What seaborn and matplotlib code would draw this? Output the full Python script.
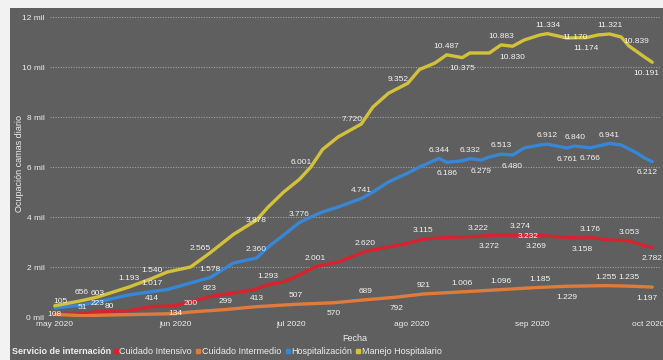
import matplotlib
matplotlib.use("Agg")
import matplotlib.pyplot as plt
from matplotlib.lines import Line2D
from matplotlib.patches import Rectangle
import seaborn as sns
import pandas as pd

# ---------------- data ----------------
series_names = ["Cuidado Intensivo", "Cuidado Intermedio", "Hospitalización", "Manejo Hospitalario"]

ci_dates = ["2020-05-01", "2020-05-08", "2020-05-12", "2020-05-20", "2020-05-26", "2020-06-01", "2020-06-05",
            "2020-06-10", "2020-06-16", "2020-06-21", "2020-06-25", "2020-06-29", "2020-07-03", "2020-07-07",
            "2020-07-13", "2020-07-20", "2020-07-26", "2020-07-31", "2020-08-04", "2020-08-10", "2020-08-18",
            "2020-08-21", "2020-08-29", "2020-08-31", "2020-09-02", "2020-09-08", "2020-09-14", "2020-09-16",
            "2020-09-21", "2020-09-26", "2020-09-30", "2020-10-02"]
ci_values = [108, 120, 223, 250, 414, 450, 600, 823, 960, 1080, 1293, 1400, 1680, 2001, 2200, 2620, 2800, 2950,
             3115, 3180, 3222, 3272, 3274, 3232, 3269, 3200, 3158, 3176, 3080, 3053, 2850, 2782]
ci_lab = ["c", "", "a", "", "a", "", "", "a", "", "", "a", "", "", "a", "", "a", "", "", "a", "", "a", "b", "a",
          "c", "b", "", "b", "a", "", "a", "", "b"]

cm_dates = ["2020-05-01", "2020-05-08", "2020-05-15", "2020-06-01", "2020-06-05", "2020-06-14", "2020-06-22",
            "2020-07-02", "2020-07-12", "2020-07-20", "2020-07-28", "2020-08-04", "2020-08-14", "2020-08-24",
            "2020-09-03", "2020-09-10", "2020-09-20", "2020-09-26", "2020-10-02"]
cm_values = [105, 51, 80, 134, 200, 299, 413, 507, 570, 689, 792, 921, 1006, 1096, 1185, 1229, 1255, 1235, 1197]
cm_lab = ["A", "a", "a", "c", "a", "a", "a", "a", "b", "a", "b", "a", "a", "a", "a", "b", "a", "a", "B"]

ho_dates = ["2020-05-01", "2020-05-08", "2020-05-12", "2020-05-20", "2020-05-26", "2020-05-30", "2020-06-05",
            "2020-06-10", "2020-06-16", "2020-06-22", "2020-06-25", "2020-06-29", "2020-07-03", "2020-07-06",
            "2020-07-09", "2020-07-13", "2020-07-19", "2020-07-22", "2020-07-26", "2020-07-31", "2020-08-03",
            "2020-08-08", "2020-08-10", "2020-08-14", "2020-08-16", "2020-08-19", "2020-08-21", "2020-08-24",
            "2020-08-27", "2020-08-30", "2020-09-03", "2020-09-05", "2020-09-10", "2020-09-12", "2020-09-16",
            "2020-09-21", "2020-09-24", "2020-09-28", "2020-09-30", "2020-10-02"]
ho_values = [360, 480, 603, 880, 1017, 1100, 1360, 1578, 2160, 2360, 2800, 3280, 3776, 4000, 4200, 4400, 4741,
             5000, 5400, 5760, 6000, 6344, 6186, 6250, 6332, 6279, 6400, 6513, 6480, 6760, 6880, 6912, 6761,
             6840, 6766, 6941, 6880, 6560, 6360, 6212]
ho_lab = ["", "", "a", "", "a", "", "", "a", "", "a", "", "", "a", "", "", "", "a", "", "", "", "",
          "a", "b", "", "a", "b", "", "a", "b", "", "", "a", "b", "a", "b", "a", "", "", "", "B"]

mh_dates = ["2020-05-01", "2020-05-08", "2020-05-12", "2020-05-20", "2020-05-26", "2020-05-30", "2020-06-05",
            "2020-06-10", "2020-06-16", "2020-06-22", "2020-06-25", "2020-06-29", "2020-07-03", "2020-07-06",
            "2020-07-09", "2020-07-13", "2020-07-19", "2020-07-22", "2020-07-26", "2020-07-31", "2020-08-03",
            "2020-08-07", "2020-08-10", "2020-08-14", "2020-08-16", "2020-08-21", "2020-08-24", "2020-08-27",
            "2020-08-30", "2020-09-03", "2020-09-05", "2020-09-10", "2020-09-12", "2020-09-15", "2020-09-18",
            "2020-09-21", "2020-09-24", "2020-09-26", "2020-09-30", "2020-10-02"]
mh_values = [450, 656, 800, 1193, 1540, 1800, 2000, 2565, 3300, 3878, 4400, 5000, 5500, 6001, 6700, 7200, 7720,
             8400, 8950, 9352, 9900, 10160, 10487, 10375, 10560, 10560, 10883, 10830, 11080, 11280, 11334, 11160,
             11170, 11174, 11280, 11321, 11200, 10839, 10400, 10191]
mh_lab = ["", "a", "", "a", "a", "", "", "l", "", "c", "", "", "", "l", "", "", "l", "", "", "l", "",
          "", "a", "b", "", "", "a", "b", "", "", "a", "", "c", "b", "", "a", "", "r", "", "B"]

month_ticks = ["2020-05-01", "2020-06-01", "2020-07-01", "2020-08-01", "2020-09-01", "2020-10-01"]
month_labels = ["may 2020", "jun 2020", "jul 2020", "ago 2020", "sep 2020", "oct 2020"]
y_ticks = [0, 2000, 4000, 6000, 8000, 10000, 12000]
y_labels = ["0 mil", "2 mil", "4 mil", "6 mil", "8 mil", "10 mil", "12 mil"]

# ---------------- build frame ----------------
frames = []
all_series = [(series_names[0], ci_dates, ci_values, ci_lab),
              (series_names[1], cm_dates, cm_values, cm_lab),
              (series_names[2], ho_dates, ho_values, ho_lab),
              (series_names[3], mh_dates, mh_values, mh_lab)]
for name, d, v, l in all_series:
    frames.append(pd.DataFrame({"Fecha": pd.to_datetime(d), "Valor": v, "Serie": name, "lab": l}))
df = pd.concat(frames, ignore_index=True)

colors = {"Cuidado Intensivo": "#d8222e", "Cuidado Intermedio": "#e07b3c",
          "Hospitalización": "#3887d6", "Manejo Hospitalario": "#d3c13c"}
bg = "#5f5f5f"
txt = "#eeeeee"

sns.set_theme(style="white")
plt.rcParams["font.family"] = ["Liberation Sans", "DejaVu Sans"]

fig = plt.figure(figsize=(6.63, 3.6), dpi=100)
fig.patch.set_facecolor(bg)
fig.patches.append(Rectangle((0, 1 - 8 / 360), 1, 8 / 360, transform=fig.transFigure,
                             facecolor="#f2f2f2", edgecolor="none", zorder=-1))
fig.patches.append(Rectangle((0, 0), 10 / 663, 1, transform=fig.transFigure,
                             facecolor="#f2f2f2", edgecolor="none", zorder=-1))

ax = fig.add_axes([50 / 663, 1 - 317 / 360, 610 / 663, 300 / 360])
ax.set_facecolor(bg)

sns.lineplot(data=df, x="Fecha", y="Valor", hue="Serie", hue_order=series_names, palette=colors,
             linewidth=2.4, ax=ax, legend=False, sort=True)

ax.set_ylim(0, 12000)
ax.set_xlim(pd.Timestamp("2020-04-29 18:00"), pd.Timestamp("2020-10-04"))
ax.set_yticks(y_ticks)
ax.set_yticklabels(y_labels)
ax.set_xticks(pd.to_datetime(month_ticks))
ax.set_xticklabels(month_labels)
ax.tick_params(axis="both", length=0, colors=txt, labelsize=6)
ax.tick_params(axis="y", pad=4)
ax.tick_params(axis="x", pad=3)
for s in ax.spines.values():
    s.set_visible(False)
ax.yaxis.grid(True, color="#a0a0a0", linestyle=(0, (1, 1.3)), linewidth=0.8)
ax.xaxis.grid(False)
ax.set_axisbelow(True)
ax.set_xlabel("Fecha", color=txt, fontsize=6.5, labelpad=4)
ax.set_ylabel("Ocupación camas diario", color=txt, fontsize=6.5)
ax.yaxis.set_label_coords(-0.042, 0.51)

offsets = {"a": (0, 6), "A": (4, 9), "b": (0, -8), "B": (-4, -8), "c": (0, 0), "l": (-7, 3), "r": (5, 3)}
for _, row in df.iterrows():
    if row["lab"]:
        dx, dy = offsets[row["lab"]]
        ax.annotate(f"{row['Valor']:,}".replace(",", "."), (row["Fecha"], row["Valor"]),
                    xytext=(dx, dy), textcoords="offset points", ha="center", va="center",
                    fontsize=6, color="#f4f4f4", zorder=5)

# legend row
fig.text(12 / 663, 1 - 352 / 360, "Servicio de internación", color=txt, fontsize=6.5,
         fontweight="bold", va="center", ha="left")
handles = [Line2D([0], [0], marker="s", linestyle="none", markersize=3.5,
                  markerfacecolor=colors[n], markeredgecolor=colors[n]) for n in series_names]
leg = fig.legend(handles, series_names, loc="center left", bbox_to_anchor=(114 / 663, 1 - 352 / 360),
                 ncol=4, frameon=False, fontsize=6.5, handlelength=0.4, handletextpad=0.2,
                 columnspacing=0.5, borderaxespad=0, borderpad=0)
for t in leg.get_texts():
    t.set_color(txt)

fig.savefig("out.png", dpi=100, facecolor=fig.get_facecolor())
